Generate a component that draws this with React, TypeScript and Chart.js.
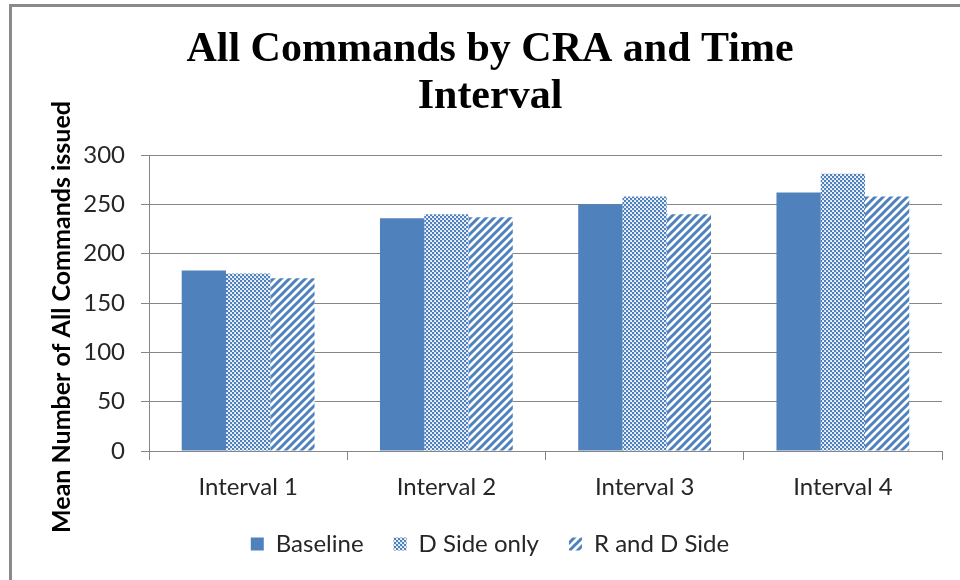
import React, { useEffect, useRef } from "react";
import { Chart, registerables } from "chart.js";

Chart.register(...registerables);

const categories = ["Interval 1", "Interval 2", "Interval 3", "Interval 4"];
const seriesNames = ["Baseline", "D Side only", "R and D Side"];
const baseline = [183, 236, 250, 262];
const dSideOnly = [180, 240, 258, 281];
const rAndDSide = [175, 237, 240, 258];
const yTicks = [0, 50, 100, 150, 200, 250, 300];
const titleLines = ["All Commands by CRA and Time", "Interval"];
const yAxisTitle = "Mean Number of All Commands issued";

const BLUE = "#4F81BD";
const GRID = "#868686";
const TEXT = "#262626";

function makeDots(): CanvasPattern | string {
  const c = document.createElement("canvas");
  c.width = 4;
  c.height = 4;
  const x = c.getContext("2d");
  if (!x) return BLUE;
  x.fillStyle = "#dbe5f3";
  x.fillRect(0, 0, 4, 4);
  x.fillStyle = BLUE;
  x.fillRect(0, 0, 2, 2);
  x.fillRect(2, 2, 2, 2);
  x.fillStyle = "#ffffff";
  x.fillRect(3, 1, 1, 1);
  x.fillRect(1, 3, 1, 1);
  return x.createPattern(c, "repeat") || BLUE;
}

function makeStripes(): CanvasPattern | string {
  const c = document.createElement("canvas");
  c.width = 8;
  c.height = 8;
  const x = c.getContext("2d");
  if (!x) return BLUE;
  x.fillStyle = "#ffffff";
  x.fillRect(0, 0, 8, 8);
  x.strokeStyle = BLUE;
  x.lineWidth = 3;
  x.beginPath();
  x.moveTo(-2, 10);
  x.lineTo(10, -2);
  x.moveTo(-6, 6);
  x.lineTo(6, -6);
  x.moveTo(2, 14);
  x.lineTo(14, 2);
  x.stroke();
  return x.createPattern(c, "repeat") || BLUE;
}

const framePlugin = {
  id: "frameAndYTitle",
  afterDraw(chart: any) {
    const ctx = chart.ctx as CanvasRenderingContext2D;
    ctx.save();
    ctx.strokeStyle = "#8a8a8a";
    ctx.lineWidth = 3;
    ctx.beginPath();
    ctx.moveTo(10.5, 580);
    ctx.lineTo(10.5, 5.5);
    ctx.lineTo(960, 5.5);
    ctx.stroke();
    ctx.translate(62, 317);
    ctx.rotate(-Math.PI / 2);
    ctx.font = "bold 25px Lato";
    ctx.fillStyle = "#000000";
    ctx.textAlign = "center";
    ctx.textBaseline = "middle";
    ctx.fillText(yAxisTitle, 0, 0);
    ctx.restore();
  },
};

export default function App() {
  const ref = useRef<HTMLCanvasElement | null>(null);

  useEffect(() => {
    let chart: Chart | null = null;
    let cancelled = false;
    const fontsReady = (document as any).fonts
      ? Promise.all([
          (document as any).fonts.load("24px Lato"),
          (document as any).fonts.load("bold 25px Lato"),
          (document as any).fonts.load('bold 42px "Liberation Serif"'),
        ]).catch(() => null)
      : Promise.resolve(null);

    fontsReady.then(() => {
      if (cancelled || !ref.current) return;
      chart = new Chart(ref.current, {
        type: "bar",
        data: {
          labels: categories,
          datasets: [
            { label: seriesNames[0], data: baseline, backgroundColor: BLUE, borderWidth: 0 },
            { label: seriesNames[1], data: dSideOnly, backgroundColor: makeDots() as any, borderWidth: 0 },
            { label: seriesNames[2], data: rAndDSide, backgroundColor: makeStripes() as any, borderWidth: 0 },
          ],
        },
        options: {
          responsive: false,
          animation: false,
          datasets: { bar: { categoryPercentage: 0.67, barPercentage: 1.0 } },
          layout: { padding: { left: 38, right: 18, top: 0, bottom: 14 } },
          plugins: {
            tooltip: { enabled: false },
            title: {
              display: true,
              text: titleLines,
              color: "#000000",
              font: { family: '"Liberation Serif", serif', size: 42, weight: "bold", lineHeight: 1.131 },
              padding: { top: 26, bottom: 34 },
            },
            legend: {
              position: "bottom",
              labels: {
                font: { family: "Lato", size: 24 },
                color: TEXT,
                boxWidth: 13,
                boxHeight: 13,
                padding: 30,
              },
            },
          },
          scales: {
            x: {
              grid: {
                display: true,
                offset: true,
                drawOnChartArea: false,
                drawTicks: true,
                tickLength: 9,
                color: GRID,
                lineWidth: 1,
              },
              border: { display: true, color: GRID, width: 1 },
              ticks: { font: { family: "Lato", size: 24 }, color: TEXT, padding: 13 },
              afterFit: (s: any) => {
                s.height = 51;
              },
            },
            y: {
              min: 0,
              max: 300,
              afterBuildTicks: (s: any) => {
                s.ticks = yTicks.map((v) => ({ value: v }));
              },
              grid: { color: GRID, tickLength: 8, lineWidth: 1 },
              border: { display: true, color: GRID, width: 1 },
              ticks: { font: { family: "Lato", size: 24 }, color: TEXT, padding: 16 },
              afterFit: (s: any) => {
                s.width = 111;
              },
            },
          },
        },
        plugins: [framePlugin],
      });
    });

    return () => {
      cancelled = true;
      if (chart) chart.destroy();
    };
  }, []);

  return (
    <div style={{ position: "absolute", left: 0, top: 0, width: 960, height: 580, background: "#ffffff" }}>
      <canvas ref={ref} width={960} height={580} style={{ display: "block", width: 960, height: 580 }} />
    </div>
  );
}
